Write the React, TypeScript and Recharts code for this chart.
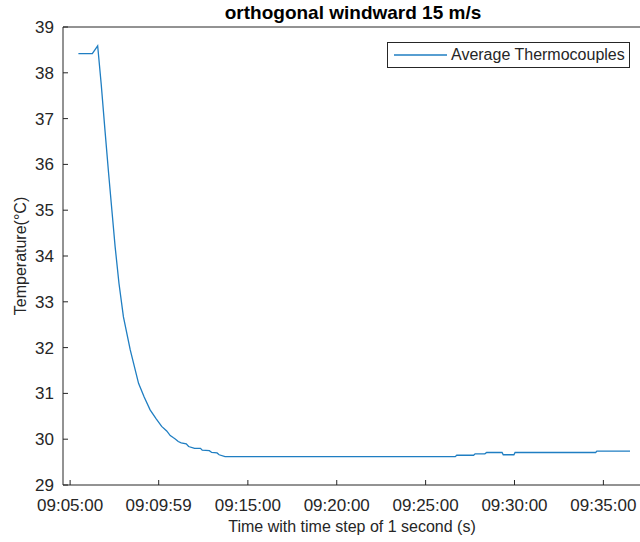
import { LineChart, Line, XAxis, YAxis, Legend, Label } from "recharts";

// seconds after 09:05:00
const timeSeconds = [
  28, 75, 93, 105, 118, 130, 141, 152, 165, 180, 203, 231, 250, 270, 290, 309, 326,
  338, 349, 356, 365, 375, 392, 400, 420, 440, 446, 470, 478, 496, 503, 523,
  1300, 1305, 1362, 1367, 1400, 1406, 1458, 1462, 1498, 1502, 1774, 1778, 1890,
];
const avgTemperature = [
  38.42, 38.42, 38.59, 37.75, 36.72, 35.8, 35.0, 34.2, 33.4, 32.67, 31.95, 31.22,
  30.92, 30.64, 30.45, 30.28, 30.18, 30.08, 30.03, 30.0, 29.95, 29.92, 29.9, 29.84, 29.8,
  29.8, 29.76, 29.75, 29.71, 29.7, 29.66, 29.62,
  29.62, 29.65, 29.65, 29.68, 29.68, 29.71, 29.71, 29.66, 29.66, 29.71, 29.71, 29.74, 29.74,
];

const timeTicks = [0, 299, 600, 900, 1200, 1500, 1800];
const timeTickLabels = ["09:05:00", "09:09:59", "09:15:00", "09:20:00", "09:25:00", "09:30:00", "09:35:00"];
const tempTicks = [29, 30, 31, 32, 33, 34, 35, 36, 37, 38, 39];

const data = timeSeconds.map((t, i) => ({ t, temp: avgTemperature[i] }));

const FONT = '"Liberation Sans", Arial, Helvetica, sans-serif';
const AXIS = "#262626";
const BLUE = "#1f7ec2";

function LegendBox() {
  return (
    <div
      style={{
        boxSizing: "border-box",
        width: 243,
        height: 26,
        border: `1px solid ${AXIS}`,
        background: "#fff",
        display: "flex",
        alignItems: "center",
        fontFamily: FONT,
        fontSize: 16,
        color: AXIS,
      }}
    >
      <svg width={63} height={10} style={{ flex: "none" }}>
        <line x1={6} y1={5} x2={59} y2={5} stroke={BLUE} strokeWidth={1.3} />
      </svg>
      <span style={{ whiteSpace: "nowrap" }}>Average Thermocouples</span>
    </div>
  );
}

export default function App() {
  return (
    <div style={{ position: "absolute", left: 0, top: 0, width: 640, height: 542, overflow: "hidden", background: "#fff" }}>
      <div
        style={{
          position: "absolute",
          left: 63,
          top: 2,
          width: 580,
          textAlign: "center",
          fontFamily: FONT,
          fontSize: 19,
          lineHeight: "22px",
          fontWeight: "bold",
          color: "#000",
        }}
      >
        orthogonal windward 15 m/s
      </div>
      <LineChart width={642} height={542} data={data} margin={{ top: 26, right: 0, bottom: 27, left: 3 }}>
        <XAxis
          xAxisId="bottom"
          dataKey="t"
          type="number"
          domain={[-24, 1927]}
          allowDataOverflow
          ticks={timeTicks}
          interval={0}
          height={30}
          tickSize={-5}
          tickMargin={19}
          stroke={AXIS}
          tick={{ fill: AXIS, fontSize: 17, fontFamily: FONT }}
          tickFormatter={(v: number) => timeTickLabels[timeTicks.indexOf(v)]}
        >
          <Label
            value="Time with time step of 1 second (s)"
            position="bottom"
            offset={6}
            style={{ fill: AXIS, fontSize: 16, fontFamily: FONT }}
          />
        </XAxis>
        <XAxis
          xAxisId="top"
          dataKey="t"
          type="number"
          orientation="top"
          domain={[-24, 1927]}
          allowDataOverflow
          ticks={timeTicks}
          interval={0}
          height={1}
          tickSize={-5}
          tick={false}
          stroke={AXIS}
        />
        <YAxis
          yAxisId="left"
          type="number"
          domain={[29, 39]}
          ticks={tempTicks}
          interval={0}
          width={60}
          tickSize={-5}
          tickMargin={14}
          stroke={AXIS}
          tick={{ fill: AXIS, fontSize: 17, fontFamily: FONT }}
        >
          <Label
            content={() => (
              <text
                x={22}
                y={256}
                transform="rotate(-90 22 256)"
                textAnchor="middle"
                dominantBaseline="middle"
                fill={AXIS}
                fontSize={16}
                fontFamily={FONT}
              >
                Temperature(°C)
              </text>
            )}
          />
        </YAxis>
        <YAxis
          yAxisId="right"
          type="number"
          orientation="right"
          domain={[29, 39]}
          ticks={tempTicks}
          interval={0}
          width={1}
          tickSize={-5}
          tick={false}
          stroke={AXIS}
        />
        <Legend
          layout="vertical"
          align="center"
          verticalAlign="middle"
          wrapperStyle={{ left: 387, top: 42, width: 243 }}
          content={() => <LegendBox />}
        />
        <Line
          xAxisId="bottom"
          yAxisId="left"
          type="linear"
          dataKey="temp"
          name="Average Thermocouples"
          stroke={BLUE}
          strokeWidth={1.3}
          dot={false}
          isAnimationActive={false}
        />
      </LineChart>
    </div>
  );
}
